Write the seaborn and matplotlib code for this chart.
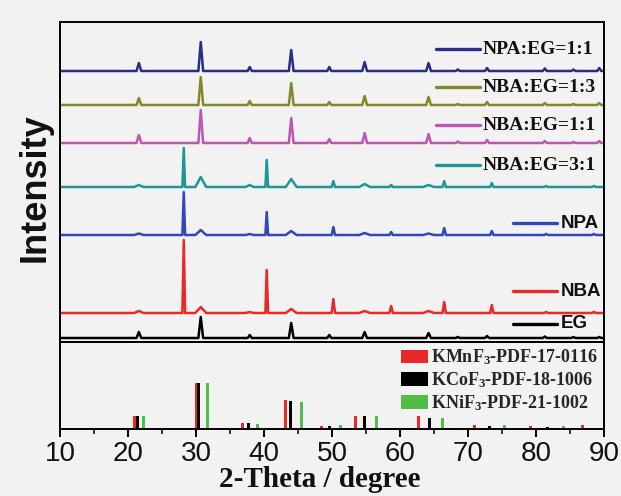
import numpy as np
import pandas as pd
import matplotlib
matplotlib.use("Agg")
import matplotlib.pyplot as plt
import seaborn as sns
from matplotlib.patches import Patch
from matplotlib.ticker import MultipleLocator

# ---------------- data ----------------
samples = ["NPA:EG=1:1", "NBA:EG=1:3", "NBA:EG=1:1", "NBA:EG=3:1", "NPA", "NBA", "EG"]
colors = ["#2b2b8c", "#86862a", "#be55b4", "#1e9696", "#3246be", "#eb2828", "#000000"]
offsets = [271, 237, 199, 155, 107, 29, 4]

# perovskite (EG-type) reflections
eg_pos = [21.6, 30.7, 37.9, 44.0, 49.6, 54.8, 64.2, 68.5, 72.8, 81.3, 85.5, 89.3]
eg_hw = [0.35, 0.35, 0.3, 0.35, 0.3, 0.35, 0.35, 0.3, 0.3, 0.3, 0.3, 0.3]
# NBA-type reflections
nb_pos = [21.6, 28.2, 30.7, 37.9, 40.4, 44.0, 50.2, 54.8, 58.7, 64.2, 66.5, 73.5, 81.5, 88.5]
nb_hw = [0.7, 0.2, 0.8, 0.6, 0.2, 0.8, 0.25, 0.8, 0.25, 0.8, 0.25, 0.25, 0.3, 0.3]

h_npa_eg_11 = [8, 29, 4, 21, 4, 9, 8, 1.5, 3, 2.5, 1.5, 3]
h_nba_eg_13 = [7, 28, 4, 22, 3, 9, 8, 1, 3, 2, 1, 2]
h_nba_eg_11 = [8, 33, 5, 25, 4, 10, 9, 1.5, 3, 2, 1, 2]
h_nba_eg_31 = [2, 39, 10, 2, 27, 8, 6, 3, 2, 2, 6, 4, 1, 1]
h_npa = [1.5, 43, 5, 1, 23, 4, 8, 2, 3, 1.5, 7, 4, 1, 1]
h_nba = [2, 73, 6, 1, 43, 4, 14, 2, 7, 2, 11, 8, 1, 1]
h_eg = [6, 21, 3, 15, 3, 6, 5, 1, 2, 1.5, 1, 1]

series_peaks = [
    (eg_pos, eg_hw, h_npa_eg_11),
    (eg_pos, eg_hw, h_nba_eg_13),
    (eg_pos, eg_hw, h_nba_eg_11),
    (nb_pos, nb_hw, h_nba_eg_31),
    (nb_pos, nb_hw, h_npa),
    (nb_pos, nb_hw, h_nba),
    (eg_pos, eg_hw, h_eg),
]

# reference cards
ref_labels = ["KMnF$_3$-PDF-17-0116", "KCoF$_3$-PDF-18-1006", "KNiF$_3$-PDF-21-1002"]
ref_colors = ["#eb2828", "#000000", "#50be46"]
kmn_pos = [21.0, 30.0, 36.9, 43.1, 48.5, 53.5, 62.7, 66.8, 71.0, 79.2, 83.3, 86.9]
kmn_h = [13, 46, 6, 29, 3.5, 13, 13, 1, 4, 3, 1, 4]
kco_pos = [21.4, 30.4, 37.7, 43.9, 49.6, 54.8, 64.4, 69.0, 73.2, 81.7, 86.2]
kco_h = [13, 46, 6, 28, 3, 13, 11, 1, 3, 2, 1]
kni_pos = [22.3, 31.7, 39.1, 45.5, 51.3, 56.5, 66.2, 75.4, 84.0, 88.2]
kni_h = [13, 46, 5, 27, 4, 13, 11, 4, 3, 1]
ref_data = [(kmn_pos, kmn_h), (kco_pos, kco_h), (kni_pos, kni_h)]

xticks = [10, 20, 30, 40, 50, 60, 70, 80, 90]

# ---------------- build long table ----------------
rows = []
for name, off, (pos, hw, hh) in zip(samples, offsets, series_peaks):
    xs = [10.0]
    ys = [off]
    for p, w, h in zip(pos, hw, hh):
        xs += [p - w, p, p + w]
        ys += [off, off + h, off]
    xs.append(90.0)
    ys.append(off)
    for x, y in zip(xs, ys):
        rows.append((name, x, y))
df = pd.DataFrame(rows, columns=["sample", "theta", "intensity"])

# ---------------- style ----------------
sns.set_theme(style="white")
plt.rcParams["font.family"] = ["Liberation Sans", "DejaVu Sans"]
plt.rcParams["mathtext.fontset"] = "custom"
plt.rcParams["mathtext.rm"] = "Liberation Serif:bold"
plt.rcParams["mathtext.default"] = "rm"

bg = "#f2f2f2"
W, H = 621, 496
fig = plt.figure(figsize=(W / 100, H / 100), dpi=100, facecolor=bg)
ax1 = fig.add_axes([60 / W, 1 - 342 / H, 544 / W, 320 / H], facecolor=bg)
ax2 = fig.add_axes([60 / W, 1 - 429 / H, 544 / W, 87 / H], facecolor=bg, sharex=ax1)

sns.lineplot(data=df, x="theta", y="intensity", hue="sample", hue_order=samples,
             palette=dict(zip(samples, colors)), estimator=None, sort=False,
             legend=False, linewidth=1.8, ax=ax1)

ax1.set_xlim(10, 90)
ax1.set_ylim(0, 320)
ax1.set_xlabel("")
ax1.set_ylabel("")
ax1.set_yticks([])
ax1.tick_params(axis="x", which="both", bottom=False, labelbottom=False)

for (pos, hh), c in zip(ref_data, ref_colors):
    ax2.bar(pos, hh, width=0.42, color=c, linewidth=0)
ax2.set_ylim(0, 87)
ax2.set_yticks([])
ax2.set_xticks(xticks)
ax2.xaxis.set_minor_locator(MultipleLocator(5))
ax2.tick_params(axis="x", which="major", direction="out", length=6, width=1.4,
                labelsize=20, pad=2.5, bottom=True, color="black", labelcolor="#111111")
ax2.tick_params(axis="x", which="minor", direction="out", length=3.5, width=1.3, bottom=True)

for ax in (ax1, ax2):
    for s in ax.spines.values():
        s.set_color("black")
        s.set_linewidth(1.4)

ax2.set_xlabel("2-Theta / degree", fontsize=21, fontweight="bold",
               family=["Liberation Serif", "DejaVu Serif"], color="#111111")
ax2.xaxis.set_label_coords((320 - 60) / 544, -(466 - 429) / 87)

fig.text(35 / W, 1 - 188 / H, "Intensity", rotation=90, ha="center", va="center",
         fontsize=26, fontweight="bold", color="#111111")

handles = [Patch(facecolor=c, edgecolor="none", label=l) for c, l in zip(ref_colors, ref_labels)]
ax2.legend(handles=handles, loc="upper right", frameon=False,
           prop={"family": "Liberation Serif", "weight": "bold", "size": 13},
           handlelength=1.5, handleheight=0.75, handletextpad=0.2, labelspacing=0.18,
           borderaxespad=0.1, borderpad=0.2)

# curve labels (short line + name next to each curve)
label_y = [49, 87, 125, 165, 223, 291, 324]
serif_names = samples[:4]
for name, c, ly in zip(samples, colors, label_y):
    yf = 1 - ly / H
    if name in serif_names:
        x0, x1, xt = 436, 480, 483
        fam, fs = ["Liberation Serif", "DejaVu Serif"], 14
    else:
        x0, x1, xt = 513, 557, 561
        fam, fs = ["Liberation Sans", "DejaVu Sans"], 13.5
    fig.add_artist(plt.Line2D([x0 / W, x1 / W], [yf, yf], color=c, lw=2.4,
                              transform=fig.transFigure))
    fig.text(xt / W, yf, name, ha="left", va="center", fontsize=fs,
             fontweight="bold", family=fam, color="#111111")

fig.savefig("out.png", dpi=100, facecolor=bg)
